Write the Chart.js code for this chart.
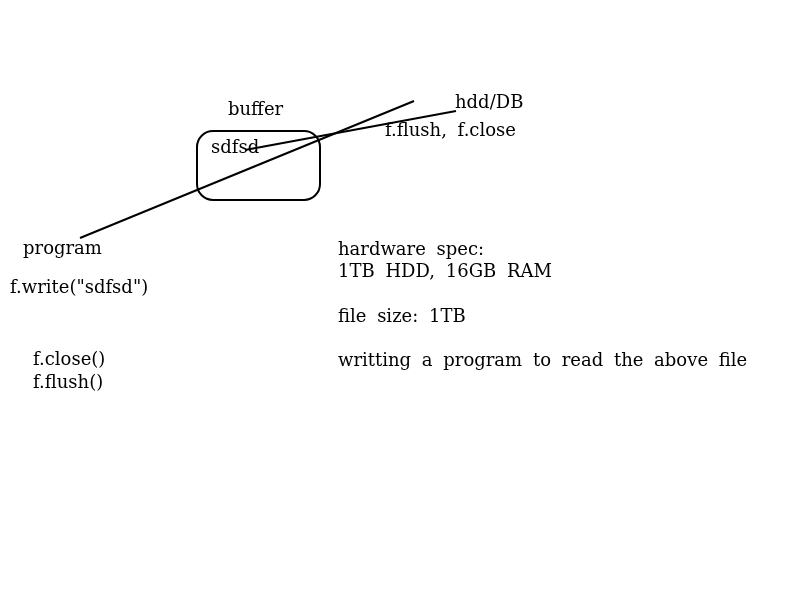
<!DOCTYPE html>
<html>
<head>
<meta charset="utf-8">
<script src="https://cdn.jsdelivr.net/npm/chart.js@4"></script>
<style>
  html, body { margin: 0; padding: 0; background: #fff; }
  #wrap { width: 800px; height: 600px; }
</style>
</head>
<body>
<div id="wrap"><canvas id="sketch"></canvas></div>
<script>
// stroke lines (sketch coordinates, y downwards)
const strokeA = [{ x: 80, y: 238 }, { x: 414, y: 101 }];
const strokeB = [{ x: 245, y: 150 }, { x: 456, y: 111 }];

// buffer box
const boxCorners = [{ x: 197, y: 131 }, { x: 320, y: 200 }];

// text notes
const noteTexts = [
    'buffer', 'hdd/DB', 'f.flush, f.close', 'sdfsd', 'program', 'f.write("sdfsd")',
    'hardware spec:', '1TB HDD, 16GB RAM', 'file size: 1TB',
    'writting a program to read the above file', 'f.close()', 'f.flush()'
];
const notePoints = [
    { x: 228, y: 115 }, { x: 455, y: 108 }, { x: 385, y: 136 }, { x: 211, y: 153 },
    { x: 23, y: 254 }, { x: 10, y: 293 }, { x: 338, y: 255 }, { x: 338, y: 277 },
    { x: 338, y: 322 }, { x: 338, y: 366 }, { x: 33, y: 365 }, { x: 33, y: 388 }
];

// 箱と文字を描くプラグイン
const sketchPlugin = {
    id: 'sketchPlugin',
    afterDatasetsDraw(chart) {
        const { ctx, scales: { x, y } } = chart;
        ctx.save();
        const x0 = x.getPixelForValue(boxCorners[0].x);
        const y0 = y.getPixelForValue(boxCorners[0].y);
        const x1 = x.getPixelForValue(boxCorners[1].x);
        const y1 = y.getPixelForValue(boxCorners[1].y);
        ctx.beginPath();
        ctx.roundRect(x0, y0, x1 - x0, y1 - y0, 16);
        ctx.lineWidth = 2;
        ctx.strokeStyle = '#000';
        ctx.stroke();

        ctx.fillStyle = '#000';
        ctx.font = '18px "DejaVu Serif", serif';
        ctx.wordSpacing = '5px';
        ctx.textBaseline = 'alphabetic';
        ctx.textAlign = 'left';
        noteTexts.forEach((t, i) => {
            ctx.fillText(t, x.getPixelForValue(notePoints[i].x), y.getPixelForValue(notePoints[i].y));
        });
        ctx.restore();
    }
};

new Chart(document.getElementById('sketch'), {
    type: 'scatter',
    data: {
        datasets: [
            { data: strokeA, showLine: true, borderColor: '#000', borderWidth: 2, pointRadius: 0 },
            { data: strokeB, showLine: true, borderColor: '#000', borderWidth: 2, pointRadius: 0 }
        ]
    },
    options: {
        responsive: true,
        maintainAspectRatio: false,
        animation: false,
        layout: { padding: 0 },
        plugins: { legend: { display: false }, tooltip: { enabled: false } },
        scales: {
            x: { type: 'linear', min: 0, max: 800, display: false },
            y: { type: 'linear', min: 0, max: 600, reverse: true, display: false }
        }
    },
    plugins: [sketchPlugin]
});
</script>
</body>
</html>
